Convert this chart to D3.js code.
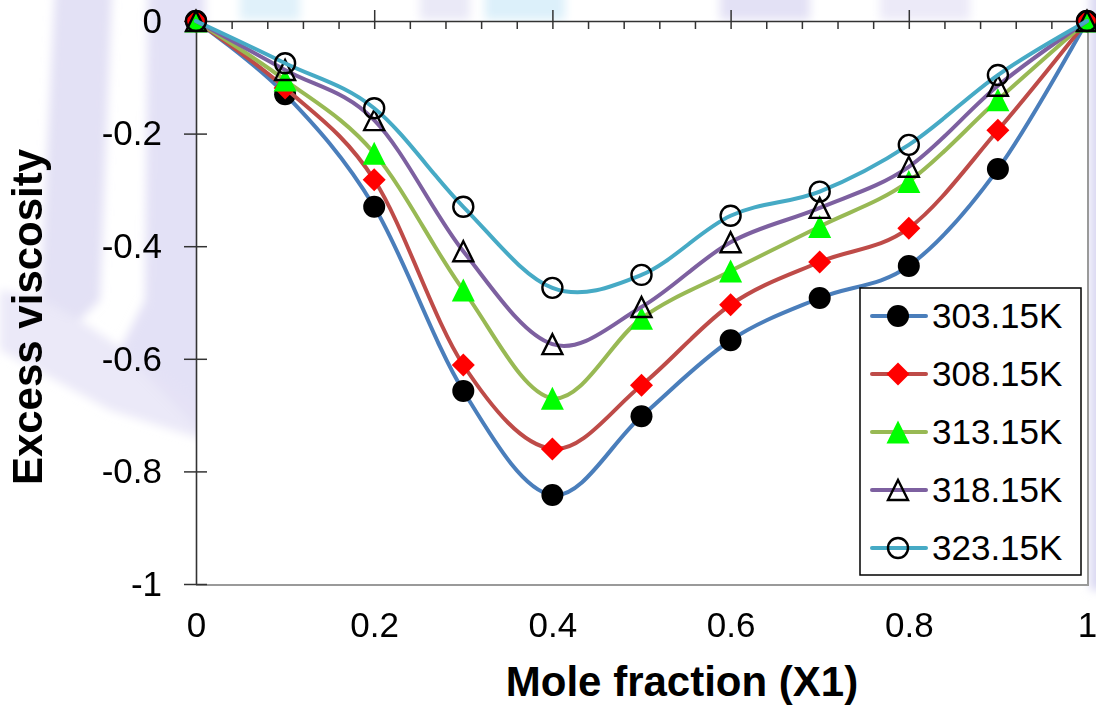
<!DOCTYPE html>
<html>
<head>
<meta charset="utf-8">
<script src="https://cdn.jsdelivr.net/npm/d3@7"></script>
<style>
  html, body { margin: 0; padding: 0; background: #ffffff; }
  svg { display: block; }
  text { font-family: "Liberation Sans", Arial, sans-serif; fill: #000; }
</style>
</head>
<body>
<svg id="chart" width="1096" height="709"></svg>
<script>
// ---- data ----
const xValues = [0, 0.1, 0.2, 0.3, 0.4, 0.5, 0.6, 0.7, 0.8, 0.9, 1];
const seriesNames = ["303.15K", "308.15K", "313.15K", "318.15K", "323.15K"];
const s30315 = [0, -0.130, -0.330, -0.657, -0.842, -0.702, -0.567, -0.492, -0.435, -0.263, 0];
const s30815 = [0, -0.119, -0.282, -0.611, -0.760, -0.647, -0.504, -0.428, -0.368, -0.194, 0];
const s31315 = [0, -0.105, -0.235, -0.478, -0.670, -0.528, -0.444, -0.365, -0.285, -0.140, 0];
const s31815 = [0, -0.087, -0.176, -0.409, -0.574, -0.508, -0.393, -0.332, -0.259, -0.115, 0];
const s32315 = [0, -0.075, -0.155, -0.330, -0.474, -0.451, -0.346, -0.303, -0.220, -0.096, 0];
const xTickLabels = [0, 0.2, 0.4, 0.6, 0.8, 1];
const yTickLabels = [0, -0.2, -0.4, -0.6, -0.8, -1];
const xTitle = "Mole fraction (X1)";
const yTitle = "Excess viscosity";

// ---- styles ----
const lineColors = ["#4a7ebb", "#be4b48", "#98b954", "#7d60a0", "#46aac5"];
const markerTypes = ["circleFilled", "diamond", "triangleFilled", "triangleOpen", "circleOpen"];
const allSeries = [s30315, s30815, s31315, s31815, s32315];

const svg = d3.select("#chart");
const pLeft = 196, pRight = 1087, pTop = 21, pBottom = 584;

const x = d3.scaleLinear().domain([0, 1]).range([pLeft, pRight]);
const y = d3.scaleLinear().domain([-1, 0]).range([pBottom, pTop]);

// ---- faint watermark background ----
const defs = svg.append("defs");
defs.append("filter").attr("id", "soft").attr("x", "-20%").attr("y", "-20%").attr("width", "140%").attr("height", "140%")
  .append("feGaussianBlur").attr("stdDeviation", 5);
const wm = svg.append("g").attr("class", "watermark").attr("filter", "url(#soft)");
wm.append("polygon").attr("points", "55,-10 112,-10 100,300 80,320 40,300")
  .attr("fill", "#dcdaf3").attr("opacity", 0.8);
wm.append("polygon").attr("points", "148,-10 205,-10 205,435 120,350 145,300")
  .attr("fill", "#dedcf4").attr("opacity", 0.85);
wm.append("polygon").attr("points", "0,290 50,300 205,405 205,440 110,410 0,350")
  .attr("fill", "#e6e4f6").attr("opacity", 0.8);
wm.append("rect").attr("x", 240).attr("y", -10).attr("width", 60).attr("height", 30).attr("fill", "#e0f1fa");
wm.append("rect").attr("x", 420).attr("y", -10).attr("width", 50).attr("height", 30).attr("fill", "#eae9f7");
wm.append("rect").attr("x", 485).attr("y", -10).attr("width", 80).attr("height", 30).attr("fill", "#dcf0fa");
wm.append("rect").attr("x", 720).attr("y", -10).attr("width", 90).attr("height", 30).attr("fill", "#e3e1f5");
wm.append("rect").attr("x", 880).attr("y", -10).attr("width", 90).attr("height", 30).attr("fill", "#eceaf8");
wm.append("rect").attr("x", 1090).attr("y", -10).attr("width", 20).attr("height", 600).attr("fill", "#dad8f2");

// ---- plot area ----
svg.append("rect").attr("x", pLeft).attr("y", pTop)
  .attr("width", 1088 - pLeft).attr("height", 585 - pTop)
  .attr("fill", "#ffffff");
svg.append("path")
  .attr("d", `M${pLeft},585 H1088 V${pTop}`)
  .attr("fill", "none").attr("stroke", "#9a9a9a").attr("stroke-width", 2);

// ---- axes ----
const axisColor = "#333333";
const xMinor = d3.axisBottom(x).tickValues(d3.range(0, 1.0001, 0.04)).tickSize(8).tickSizeOuter(0).tickFormat("");
svg.append("g").attr("transform", `translate(0,${pTop})`).call(xMinor);
const xMajor = d3.axisTop(x).tickValues(xTickLabels).tickSize(11).tickSizeOuter(0).tickFormat("");
const gxM = svg.append("g").attr("transform", `translate(0,${pTop})`).call(xMajor);
gxM.select(".domain").remove();
const xLab = d3.axisBottom(x).tickValues(xTickLabels).tickSize(0).tickPadding(28)
  .tickFormat(d => String(d));
const gxl = svg.append("g").attr("transform", `translate(0,${pBottom})`).call(xLab);
gxl.select(".domain").remove();

const yAx = d3.axisLeft(y).tickValues(yTickLabels).tickSize(12).tickSizeOuter(0).tickPadding(22)
  .tickFormat(d => String(d));
svg.append("g").attr("transform", `translate(${pLeft},0)`).call(yAx);
const yIn = d3.axisRight(y).tickValues(yTickLabels).tickSize(11).tickSizeOuter(0).tickFormat("");
const gyi = svg.append("g").attr("transform", `translate(${pLeft},0)`).call(yIn);
gyi.select(".domain").remove();

svg.selectAll(".domain").attr("stroke", axisColor).attr("stroke-width", 1.6);
svg.selectAll(".tick line").attr("stroke", axisColor).attr("stroke-width", 1.5);
svg.selectAll(".tick text")
  .attr("font-family", "'Liberation Sans', Arial, sans-serif")
  .attr("font-size", 35).attr("fill", "#000");

// ---- titles ----
svg.append("text").attr("x", 682).attr("y", 696)
  .attr("text-anchor", "middle").attr("font-size", 42).attr("font-weight", "bold")
  .text(xTitle);
svg.append("text").attr("transform", "translate(42,317) rotate(-90)")
  .attr("text-anchor", "middle").attr("font-size", 42).attr("font-weight", "bold")
  .text(yTitle);

// ---- markers ----
function drawMarker(g, type, cx, cy) {
  if (type === "circleFilled") {
    g.append("circle").attr("cx", cx).attr("cy", cy).attr("r", 11).attr("fill", "#000");
  } else if (type === "diamond") {
    const s = 11.5;
    g.append("path").attr("d", `M${cx},${cy - s} L${cx + s},${cy} L${cx},${cy + s} L${cx - s},${cy} Z`)
      .attr("fill", "#ff0000");
  } else if (type === "triangleFilled") {
    const w = 11.5, h = 11.5;
    g.append("path").attr("d", `M${cx},${cy - h} L${cx + w},${cy + h} L${cx - w},${cy + h} Z`)
      .attr("fill", "#00ff00");
  } else if (type === "triangleOpen") {
    const w = 10, h = 10;
    g.append("path").attr("d", `M${cx},${cy - h} L${cx + w},${cy + h} L${cx - w},${cy + h} Z`)
      .attr("fill", "none").attr("stroke", "#000").attr("stroke-width", 2.4);
  } else if (type === "circleOpen") {
    g.append("circle").attr("cx", cx).attr("cy", cy).attr("r", 10)
      .attr("fill", "none").attr("stroke", "#000").attr("stroke-width", 2.4);
  }
}

// ---- series ----
const line = d3.line()
  .x(d => x(d[0])).y(d => y(d[1]))
  .curve(d3.curveCardinal.tension(0));

allSeries.forEach((vals, i) => {
  const g = svg.append("g").attr("class", "series");
  const pts = xValues.map((xv, k) => [xv, vals[k]]);
  g.append("path").datum(pts).attr("d", line)
    .attr("fill", "none").attr("stroke", lineColors[i]).attr("stroke-width", 4)
    .attr("stroke-linejoin", "round").attr("stroke-linecap", "round");
  pts.forEach(p => drawMarker(g, markerTypes[i], x(p[0]), y(p[1])));
});

// ---- legend ----
const lg = svg.append("g").attr("class", "legend");
lg.append("rect").attr("x", 860).attr("y", 288).attr("width", 221).attr("height", 287)
  .attr("fill", "#fff").attr("stroke", "#000").attr("stroke-width", 1.5);
seriesNames.forEach((name, i) => {
  const cy = 316 + i * 58;
  lg.append("line").attr("x1", 872).attr("x2", 926).attr("y1", cy).attr("y2", cy)
    .attr("stroke", lineColors[i]).attr("stroke-width", 4).attr("stroke-linecap", "round");
  drawMarker(lg, markerTypes[i], 898, cy);
  lg.append("text").attr("x", 932).attr("y", cy).attr("dy", "0.35em")
    .attr("font-size", 35).text(name);
});
</script>
</body>
</html>
